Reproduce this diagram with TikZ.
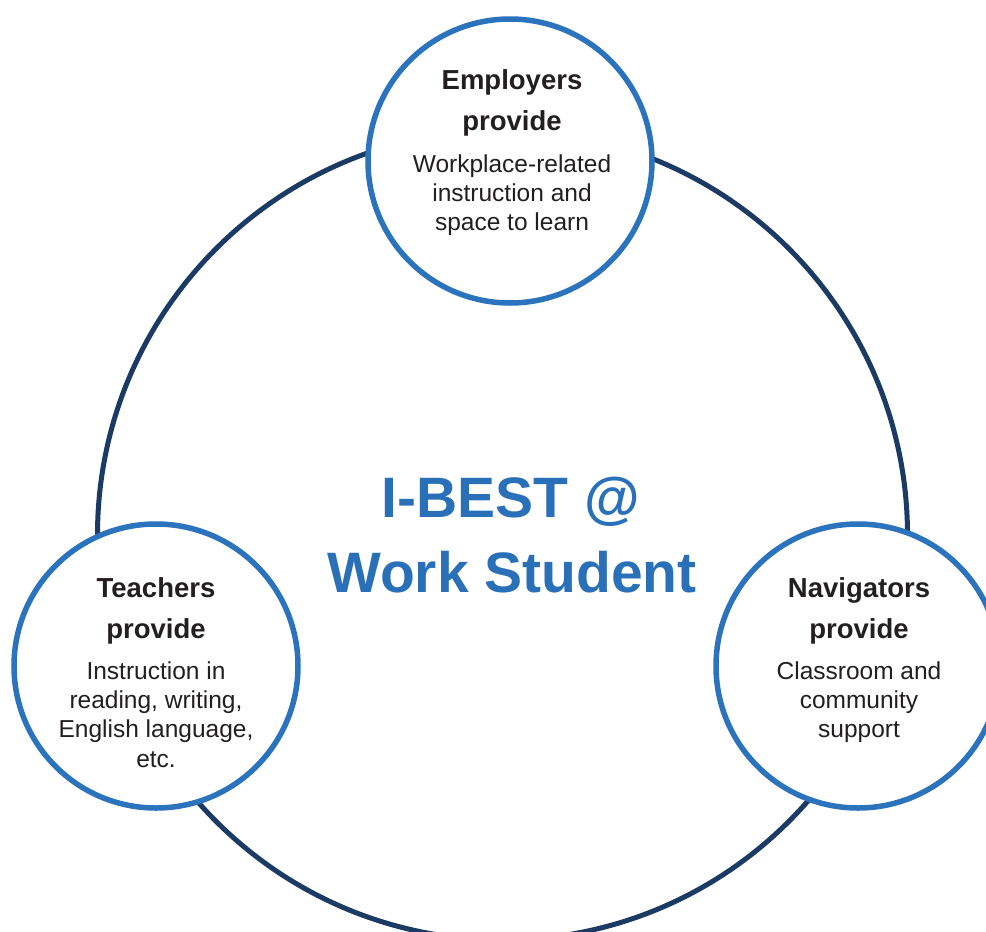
\documentclass[tikz,border=0pt]{standalone}
\usepackage{fontspec}
\setmainfont{Liberation Sans}
\definecolor{navy}{HTML}{1B3A64}
\definecolor{ringblue}{HTML}{2B73BD}
\definecolor{titleblue}{HTML}{2A70B8}
\definecolor{ink}{HTML}{231F20}
\begin{document}
\begin{tikzpicture}[x=1pt,y=-1pt,
  bigring/.style={circle,draw=navy,line width=5pt,minimum size=810pt,inner sep=0pt},
  ring/.style={circle,draw=ringblue,fill=white,line width=5.5pt,minimum size=284pt,inner sep=0pt},
  head/.style={anchor=base,inner sep=0pt,text=ink,font=\fontsize{27.5}{32}\selectfont\bfseries},
  body/.style={anchor=base,inner sep=0pt,text=ink,font=\fontsize{24.5}{28}\selectfont},
  title/.style={anchor=base,inner sep=0pt,text=titleblue,font=\fontsize{57}{66}\selectfont\bfseries}]
\useasboundingbox (0,0) rectangle (986,932);
\node[bigring] (big) at (502.5,535) {};
\node[ring] (emp) at (510,161) {};
\node[ring] (tea) at (156,666) {};
\node[ring] (nav) at (858,666) {};
% title
\node[title] (t1) at (511,517) {I-BEST @};
\node[title] (t2) at (512,592) {Work Student};
% employers
\node[head] (e1) at (512,89) {Employers};
\node[head] (e2) at (512,130) {provide};
\node[body] (e3) at (512,172) {Workplace-related};
\node[body] (e4) at (512,201) {instruction and};
\node[body] (e5) at (512,230) {space to learn};
% teachers
\node[head] (a1) at (156,597) {Teachers};
\node[head] (a2) at (156,638) {provide};
\node[body] (a3) at (156,679) {Instruction in};
\node[body] (a4) at (156,708) {reading, writing,};
\node[body] (a5) at (156,737) {English language,};
\node[body] (a6) at (156,767) {etc.};
% navigators
\node[head] (n1) at (859,597) {Navigators};
\node[head] (n2) at (859,638) {provide};
\node[body] (n3) at (859,679) {Classroom and};
\node[body] (n4) at (859,708) {community};
\node[body] (n5) at (859,737) {support};
\end{tikzpicture}
\end{document}
